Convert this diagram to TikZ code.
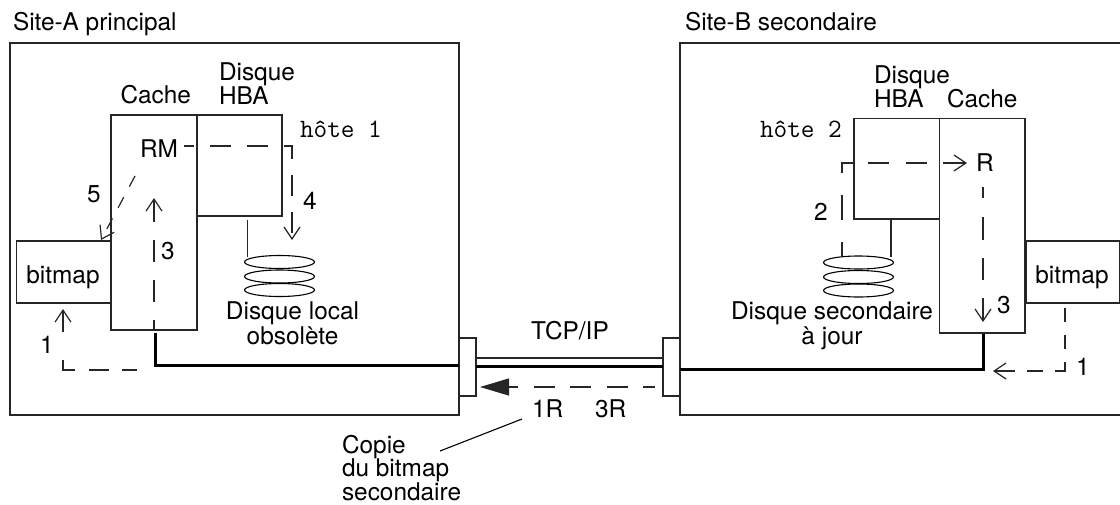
\documentclass[tikz,border=0pt]{standalone}
\usepackage{fontspec}
\setmainfont{TeX Gyre Heros}
\usetikzlibrary{arrows.meta,shapes.geometric}
\tikzset{
  boxn/.style={draw=black!85,line width=1.2pt,inner sep=0pt,outer sep=0pt,anchor=north west,fill=none},
  disc/.style={draw=black,line width=1.1pt,ellipse,inner sep=0pt,outer sep=0pt,minimum width=70pt,minimum height=13pt},
  lab/.style={inner sep=0pt,outer sep=0pt,anchor=base west,font=\fontsize{24.4}{24}\selectfont},
  labc/.style={lab,anchor=base},
  monolab/.style={lab,font=\fontsize{26.5}{26}\ttfamily},
  thin line/.style={draw=black!85,line width=1.2pt},
  bus/.style={draw=black,line width=3pt,line join=miter},
  dashline/.style={draw=black!85,line width=1.2pt},
  barb/.style={-{Straight Barb[length=12pt,width=16pt]}},
}
\begin{document}
\begin{tikzpicture}[x=1pt,y=-1pt]
\useasboundingbox (0,0) rectangle (1120,504);

% site frames
\node[boxn,minimum width=449pt,minimum height=372pt] (siteA) at (10,43) {};
\coordinate (bTR) at (1120,43);
\coordinate (bTL) at (680,43);
\coordinate (bBL) at (680,415);
\coordinate (bBR) at (1120,415);
\draw[thin line] (bTR) -- (bTL) -- (bBL) -- (bBR);

\node[lab] (titleA) at (13,30.5) {Site-A principal};
\node[lab] (titleB) at (685,30.5) {Site-B secondaire};

% site A
\node[boxn,minimum width=86pt,minimum height=215pt] (cacheA) at (111,115) {};
\node[boxn,minimum width=85pt,minimum height=101pt] (hbaA) at (197,115) {};
\node[boxn,minimum width=94.5pt,minimum height=62pt] (bmA) at (16.5,241) {};
\node[lab] (cacheAl) at (120.5,103.5) {Cache};
\node[lab] (disqueAl) at (219,80) {Disque};
\node[lab] (hbaAl) at (219,104) {HBA};
\node[monolab] (hoteA) at (300,137.5) {hôte 1};
\node[lab] (rmA) at (140,157) {RM};
\node[lab] (n5) at (87,202) {5};
\node[lab] (n4) at (303,209) {4};
\node[lab] (n3A) at (161,259) {3};
\node[labc] (bmAl) at (63,283) {bitmap};
\node[lab] (n1A) at (40,353) {1};
\node[labc] (dlA) at (292.5,319) {Disque local};
\node[labc] (obs) at (292.5,344) {obsolète};
\node[disc] (dA1) at (279.5,262) {};
\node[disc] (dA2) at (279.5,276.5) {};
\node[disc] (dA3) at (279.5,290) {};

% site B
\node[boxn,minimum width=85.5pt,minimum height=214.5pt] (cacheB) at (939.5,118.5) {};
\node[boxn,minimum width=85.5pt,minimum height=100.5pt] (hbaB) at (854,118.5) {};
\node[boxn,minimum width=93.5pt,minimum height=62pt] (bmB) at (1026,241) {};
\node[lab] (disqueBl) at (874,83) {Disque};
\node[lab] (hbaBl) at (874,107.5) {HBA};
\node[lab] (cacheBl) at (947,107.5) {Cache};
\node[monolab] (hoteB) at (760,137.5) {hôte 2};
\node[lab] (rB) at (976,171) {R};
\node[lab] (n2) at (814,220) {2};
\node[lab] (n3B) at (997,313) {3};
\node[lab] (n1B) at (1076,375) {1};
\node[labc] (bmBl) at (1072,283) {bitmap};
\node[labc] (dsB) at (832,319) {Disque secondaire};
\node[labc] (ajour) at (832,344) {à jour};
\node[disc] (dB1) at (858.5,262.5) {};
\node[disc] (dB2) at (858.5,277) {};
\node[disc] (dB3) at (858.5,290.5) {};

% link blocks
\node[boxn,minimum width=17pt,minimum height=58pt] (linkA) at (459,338) {};
\node[boxn,minimum width=17pt,minimum height=58pt] (linkB) at (663,338) {};
\node[labc] (tcp) at (570,339) {TCP/IP};
\node[lab] (r1) at (532,417) {1R};
\node[lab] (r3) at (595,417) {3R};
\node[lab] (copie1) at (342,453) {Copie};
\node[lab] (copie2) at (342,476.5) {du bitmap};
\node[lab] (copie3) at (342,500) {secondaire};

% link lines
\coordinate (lkAt) at (476,358);
\coordinate (lkBt) at (663,358);
\draw[thin line] (lkAt) -- (lkBt);
\coordinate (lkAb) at (476,366.5);
\coordinate (lkBb) at (663,366.5);
\draw[bus] (lkAb) -- (lkBb);

% buses
\coordinate (busA0) at (155,333);
\coordinate (busA1) at (155,365.5);
\coordinate (busA2) at (459,365.5);
\draw[bus] (busA0) -- (busA1) -- (busA2);
\coordinate (busB0) at (983,333.5);
\coordinate (busB1) at (983,369);
\coordinate (busB2) at (680,369);
\draw[bus] (busB0) -- (busB1) -- (busB2);

% disk stems
\coordinate (stemA0) at (247.5,220);
\coordinate (stemA1) at (247.5,257);
\draw[thin line] (stemA0) -- (stemA1);
\coordinate (stemB0) at (891,220);
\coordinate (stemB1) at (891,257);
\draw[thin line] (stemB0) -- (stemB1);

% leader
\coordinate (leadA) at (440,451);
\coordinate (leadB) at (522,419);
\draw[draw=black,line width=1.1pt] (leadA) -- (leadB);

% dashed flows, site A
\coordinate (a4s) at (184,146);
\coordinate (a4c) at (292,146);
\coordinate (a4e) at (292,240);
\draw[dashline,barb,dash pattern=on 21pt off 16pt,dash phase=11pt] (a4s) -- (a4c) -- (a4e);

\coordinate (a5s) at (135,176);
\coordinate (a5e) at (101,240);
\draw[dashline,barb,dash pattern=on 12pt off 12pt] (a5s) -- (a5e);

\coordinate (a3s) at (154,330);
\coordinate (a3e) at (154,198);
\draw[dashline,barb,dash pattern=on 10pt off 18pt on 22pt off 18pt on 22pt off 18pt on 40pt off 1pt] (a3s) -- (a3e);

\coordinate (a1s) at (137,370);
\coordinate (a1c) at (63,370);
\coordinate (a1e) at (63,309);
\draw[dashline,barb,dash pattern=on 15pt off 13pt on 20pt off 14pt on 22pt off 28pt on 40pt off 1pt] (a1s) -- (a1c) -- (a1e);

% dashed flows, site B
\coordinate (b2s) at (842,256);
\coordinate (b2c) at (842,163);
\coordinate (b2e) at (967,163);
\draw[dashline,barb,dash pattern=on 14pt off 22pt on 25pt off 22pt on 21pt off 15pt on 21pt off 17pt on 21pt off 16pt on 40pt off 1pt] (b2s) -- (b2c) -- (b2e);

\coordinate (b3s) at (983,187);
\coordinate (b3e) at (983,322);
\draw[dashline,barb,dash pattern=on 11pt off 19pt on 23pt off 18pt on 22pt off 18pt on 40pt off 1pt] (b3s) -- (b3e);

\coordinate (b1s) at (1065,308);
\coordinate (b1c) at (1065,371);
\coordinate (b1e) at (993,371);
\draw[dashline,barb,dash pattern=on 14pt off 13pt on 14pt off 13pt on 19pt off 12pt on 16pt off 12pt on 40pt off 1pt] (b1s) -- (b1c) -- (b1e);

% dashed flow across the link
\coordinate (ls) at (655,387);
\coordinate (le) at (480,387);
\draw[dashline,-{Triangle[length=29pt,width=17pt]},dash pattern=on 21pt off 15.5pt,dash phase=9pt] (ls) -- (le);
\end{tikzpicture}
\end{document}
